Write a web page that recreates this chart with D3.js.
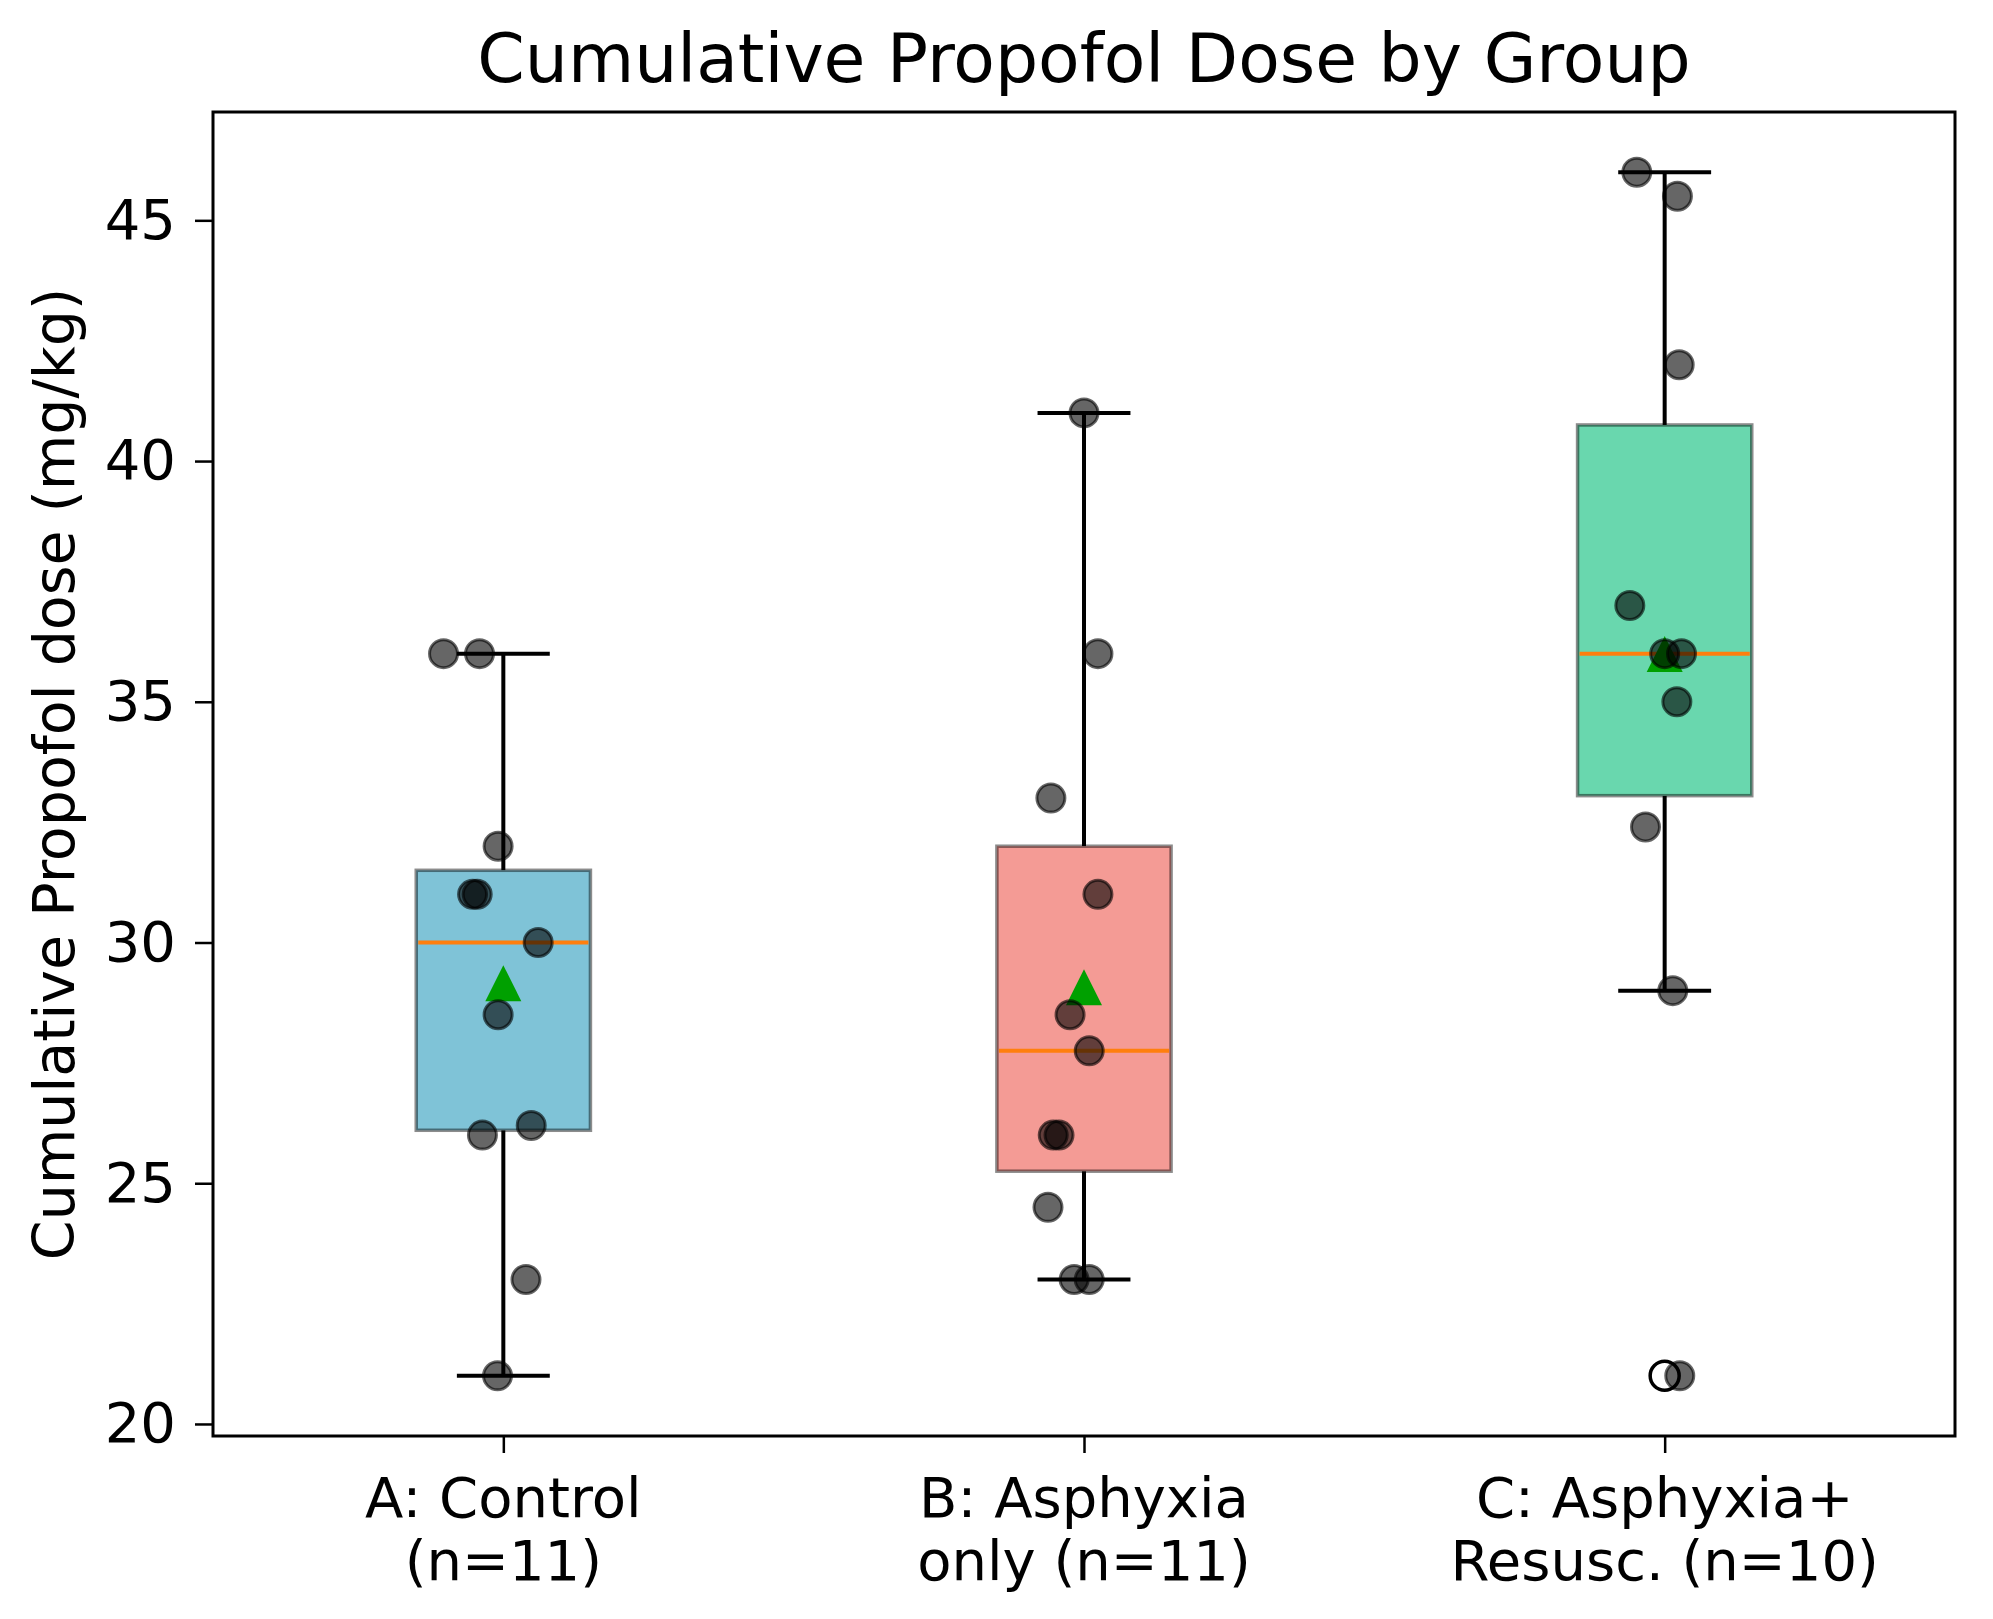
<!DOCTYPE html>
<html><head><meta charset="utf-8">
<script src="https://cdn.jsdelivr.net/npm/d3@7"></script>
<style>body{margin:0;background:#fff}</style></head>
<body><svg id="c" width="1993" height="1619" xmlns="http://www.w3.org/2000/svg"></svg>
<script>
// ---- data ----
const categories = [["A: Control","(n=11)"],["B: Asphyxia","only (n=11)"],["C: Asphyxia+","Resusc. (n=10)"]];
const valuesA = [36,36,32,31,31,30,28.5,26,26.2,23,21];
const jitterA = [-0.103,-0.041,-0.009,-0.053,-0.045,0.060,-0.009,-0.036,0.048,0.039,-0.010];
const valuesB = [41,36,33,31,28.5,27.75,26,26,24.5,23,23];
const jitterB = [0.0,0.024,-0.057,0.024,-0.024,0.009,-0.053,-0.043,-0.062,-0.017,0.009];
const valuesC = [46,45.5,42,37,36,36,35,32.4,29,21];
const jitterC = [-0.048,0.022,0.025,-0.060,0.0,0.029,0.021,-0.033,0.014,0.026];
const yTicks = [20,25,30,35,40,45];
const boxColors = ["#7fc3d7","#f49b95","#69d7ae"];
const titleText = "Cumulative Propofol Dose by Group";
const yLabelText = "Cumulative Propofol dose (mg/kg)";

const series = [valuesA, valuesB, valuesC];
const jitters = [jitterA, jitterB, jitterC];

// ---- layout ----
const L = 213, R = 1955, T = 112, B = 1436;
const FONT = "'DejaVu Sans', sans-serif";
const svg = d3.select("#c");

const x = d3.scaleLinear().domain([0.5, 3.5]).range([L, R]);
const y = d3.scaleLinear().domain([19.75, 47.25]).range([B, T]);
const boxW = 0.30, capW = 0.16, meanSize = 36;

function stats(vals) {
  const s = vals.slice().sort(d3.ascending);
  const q1 = d3.quantileSorted(s, 0.25), med = d3.quantileSorted(s, 0.5), q3 = d3.quantileSorted(s, 0.75);
  const iqr = q3 - q1;
  const lo = d3.min(s.filter(v => v >= q1 - 1.5 * iqr));
  const hi = d3.max(s.filter(v => v <= q3 + 1.5 * iqr));
  const fliers = s.filter(v => v < lo || v > hi);
  return {q1, med, q3, lo, hi, fliers, mean: d3.mean(s)};
}

const g = svg.append("g");
series.forEach((vals, i) => {
  const p = i + 1, st = stats(vals);
  g.append("line").attr("x1", x(p)).attr("x2", x(p)).attr("y1", y(st.q1)).attr("y2", y(st.lo))
    .attr("stroke", "#000").attr("stroke-width", 4);
  g.append("line").attr("x1", x(p)).attr("x2", x(p)).attr("y1", y(st.q3)).attr("y2", y(st.hi))
    .attr("stroke", "#000").attr("stroke-width", 4);
  [st.lo, st.hi].forEach(v => g.append("line")
    .attr("x1", x(p - capW / 2)).attr("x2", x(p + capW / 2)).attr("y1", y(v)).attr("y2", y(v))
    .attr("stroke", "#000").attr("stroke-width", 4));
  g.append("rect").attr("x", x(p - boxW / 2)).attr("width", x(p + boxW / 2) - x(p - boxW / 2))
    .attr("y", y(st.q3)).attr("height", y(st.q1) - y(st.q3))
    .attr("fill", boxColors[i]).attr("stroke", "rgba(0,0,0,0.45)").attr("stroke-width", 3.5);
  g.append("line").attr("x1", x(p - boxW / 2) + 2).attr("x2", x(p + boxW / 2) - 2)
    .attr("y1", y(st.med)).attr("y2", y(st.med)).attr("stroke", "#ff7f0e").attr("stroke-width", 4);
  st.fliers.forEach(v => g.append("circle").attr("cx", x(p)).attr("cy", y(v)).attr("r", 14.5)
    .attr("fill", "none").attr("stroke", "#000").attr("stroke-width", 3.5));
  const mx = x(p), my = y(st.mean), hs = meanSize / 2;
  g.append("path").attr("d", `M${mx},${my - hs}L${mx + hs},${my + hs}L${mx - hs},${my + hs}Z`)
    .attr("fill", "#00a000");
});

series.forEach((vals, i) => {
  const p = i + 1;
  g.selectAll(null).data(vals.map((v, k) => ({v, j: jitters[i][k]}))).enter().append("circle")
    .attr("cx", d => x(p + d.j)).attr("cy", d => y(d.v)).attr("r", 14)
    .attr("fill", "rgba(0,0,0,0.6)").attr("stroke", "rgba(0,0,0,0.6)").attr("stroke-width", 3);
});

svg.append("rect").attr("x", L).attr("y", T).attr("width", R - L).attr("height", B - T)
  .attr("fill", "none").attr("stroke", "#000").attr("stroke-width", 3);

const ya = svg.append("g").attr("transform", `translate(${L},0)`)
  .call(d3.axisLeft(y).tickValues(yTicks).tickSize(18).tickPadding(19).tickFormat(d3.format("d")));
ya.select(".domain").remove();
ya.selectAll("line").attr("stroke", "#000").attr("stroke-width", 2.5);
ya.selectAll("text").attr("font-family", FONT).attr("font-size", 56).attr("fill", "#000");

const xa = svg.append("g").attr("transform", `translate(0,${B})`)
  .call(d3.axisBottom(x).tickValues([1, 2, 3]).tickSize(17).tickFormat(""));
xa.select(".domain").remove();
xa.selectAll("line").attr("stroke", "#000").attr("stroke-width", 2.5);
categories.forEach((lines, i) => {
  const t = svg.append("text").attr("x", x(i + 1)).attr("y", 1517).attr("text-anchor", "middle")
    .attr("font-family", FONT).attr("font-size", 56).attr("fill", "#000");
  lines.forEach((ln, k) => t.append("tspan").attr("x", x(i + 1)).attr("dy", k === 0 ? 0 : 63).text(ln));
});

svg.append("text").attr("x", (L + R) / 2).attr("y", 82).attr("text-anchor", "middle")
  .attr("font-family", FONT).attr("font-size", 68).attr("fill", "#000").text(titleText);

svg.append("text").attr("transform", `translate(74,${(T + B) / 2}) rotate(-90)`).attr("text-anchor", "middle")
  .attr("font-family", FONT).attr("font-size", 57).attr("fill", "#000").text(yLabelText);
</script></body></html>
